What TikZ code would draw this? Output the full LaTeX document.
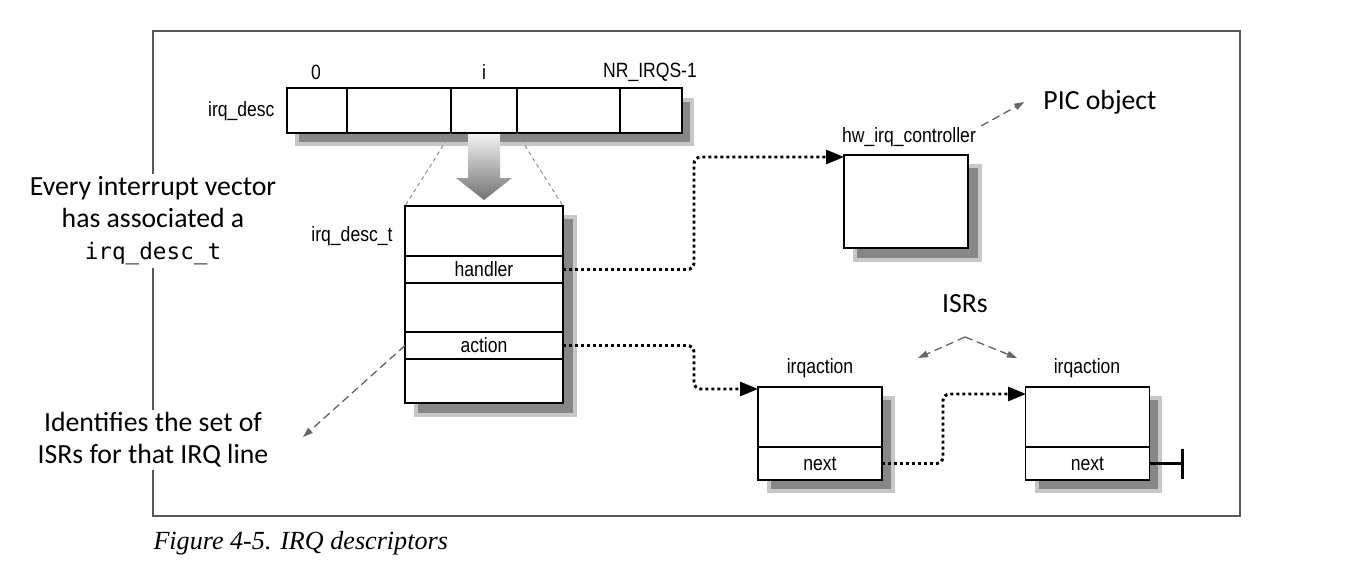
\documentclass[tikz,border=0pt]{standalone}
\usepackage{fontspec}
\setmainfont{Liberation Sans}
\newfontfamily\labelfont[FakeStretch=0.85]{Liberation Sans}
\newfontfamily\notefont{Carlito}
\newfontfamily\codefont{DejaVu Sans Mono}
\newfontfamily\capfont{Liberation Serif}
\usetikzlibrary{positioning,arrows.meta}

\tikzset{every picture/.style={line width=0.75pt}}
\tikzset{
  framec/.style={draw=black!65, line width=1pt},
  cell/.style={draw, fill=white, line width=1.8pt, outer sep=0pt, inner sep=0pt, minimum height=33.75pt},
  rowbox/.style={draw, fill=white, line width=1.1pt, outer sep=0pt, inner sep=0pt, minimum width=118.5pt, font=\labelfont\fontsize{15.5}{15.5}\selectfont},
  boxshadow/.style={fill=black!47, draw=black!22, line width=3pt},
  lbl/.style={inner sep=0.75pt, font=\labelfont\fontsize{15.5}{15.5}\selectfont},
  note/.style={align=center, fill=white, inner sep=2pt, font=\notefont\fontsize{20.8}{24}\selectfont},
  fan/.style={draw=black!45, line width=0.7pt, dash pattern=on 3pt off 2.5pt},
  ptr/.style={line width=2.2pt, dash pattern=on 2.2pt off 2.3pt, rounded corners=5pt, -{Triangle[length=13.5pt,width=10.5pt]}},
  hint/.style={draw=black!60, line width=1pt, dash pattern=on 6pt off 3.5pt, -{Triangle[length=7.5pt,width=5pt,fill=black!60]}},
}

\begin{document}
\begin{tikzpicture}[x=0.75pt,y=0.75pt,yscale=-1,xscale=1]
\useasboundingbox (0,0) rectangle (1347,575);

%Frame
\draw[framec] (153,31) rectangle (1240,516);

%Shadows
\draw[boxshadow] (297,100) rectangle (692,144);
\draw[boxshadow] (416,217) rectangle (575,415);
\draw[boxshadow] (855,166) rectangle (980,260);
\draw[boxshadow] (769,398) rectangle (893,491);
\draw[boxshadow] (1037,398) rectangle (1160,491);

%irq_desc array
\node[cell, minimum width=45pt] (c0) at (317,110.5) {};
\node[cell, minimum width=78pt, right=0pt of c0] (c1) {};
\node[cell, minimum width=49.5pt, right=0pt of c1] (ci) {};
\node[cell, minimum width=77.25pt, right=0pt of ci] (c3) {};
\node[cell, minimum width=46.5pt, right=0pt of c3] (cn) {};

%irq_desc_t rows
\node[rowbox, minimum height=37.5pt] (d1) at (484,231) {};
\node[rowbox, minimum height=20.25pt, below=0pt of d1] (handler) {handler};
\node[rowbox, minimum height=36.75pt, below=0pt of handler] (d3) {};
\node[rowbox, minimum height=20.25pt, below=0pt of d3] (action) {action};
\node[rowbox, minimum height=33pt, below=0pt of action] (d5) {};

%hw_irq_controller
\node[rowbox, minimum width=93pt, minimum height=69.75pt] (hw) at (906,201.5) {};

%irqaction boxes
\node[rowbox, minimum width=93pt, minimum height=45pt] (ia1) at (820,417) {};
\node[rowbox, minimum width=93pt, minimum height=24.75pt, below=0pt of ia1] (next1) {next};
\node[rowbox, minimum width=93pt, minimum height=45pt] (ia2) at (1087.5,417) {};
\node[rowbox, minimum width=93pt, minimum height=24.75pt, below=0pt of ia2] (next2) {next};

% Text Node
\node[lbl] (lbl0) at (316,72) {0};
\node[lbl] (lbli) at (484,72) {i};
\node[lbl] (lbln) at (650,72) {NR\_IRQS-1};
\node[lbl, anchor=east] (desclbl) at (276,111) {irq\_desc};
\node[lbl, anchor=east] (desctlbl) at (394,236) {irq\_desc\_t};
\node[lbl] (hwlbl) at (909,137) {hw\_irq\_controller};
\node[lbl] (ia1lbl) at (820,368) {irqaction};
\node[lbl] (ia2lbl) at (1087,368) {irqaction};

%Zoom lines and shaded arrow
\draw[fan] (ci.south west) -- (d1.north west);
\draw[fan] (ci.south east) -- (d1.north east);
\shade[top color=black!5, bottom color=black!55] (468,134) -- (500,134) -- (500,178) -- (512,178) -- (484,200) -- (456,178) -- (468,178) -- cycle;

%Pointers
\coordinate (hwin) at (844,157);
\coordinate (ia1in) at (758,389);
\coordinate (ia2in) at (1026,394);
\draw[ptr] (handler.east) -- ++(131,0) |- (hwin);
\draw[ptr] (action.east) -- ++(131,0) |- (ia1in);
\draw[ptr] (next1.east) -- ++(61,0) |- (ia2in);
\draw[line width=2.2pt, -{Bar[width=22.5pt,line width=2.2pt]}] (next2.east) -- ++(34,0);

%Notes
\node[note] (vecnote) at (153,221) {Every interrupt vector\\has associated a\\{\codefont\fontsize{17}{24}\selectfont irq\_desc\_t}};
\node[note] (isrnote) at (153,440) {Identifies the set of\\ISRs for that IRQ line};
\node[note] (pic) at (1100,102) {PIC object};
\node[note] (isrs) at (965,304) {ISRs};

\coordinate (isrtip) at (303,437);
\coordinate (isrfork) at (965,337);
\coordinate (isrl) at (918,358);
\coordinate (isrr) at (1017,358);
\draw[hint] (action.west) -- (isrtip);
\draw[hint] ([xshift=3pt]hwlbl.north east) -- ([xshift=-12pt]pic.west);
\draw[hint] (isrfork) -- (isrl);
\draw[hint] (isrfork) -- (isrr);

% Caption
\node[anchor=west, inner sep=0pt, font=\capfont\itshape\fontsize{19.6}{19.6}\selectfont] (cap) at (153,543) {Figure 4-5. IRQ descriptors};

\end{tikzpicture}
\end{document}
